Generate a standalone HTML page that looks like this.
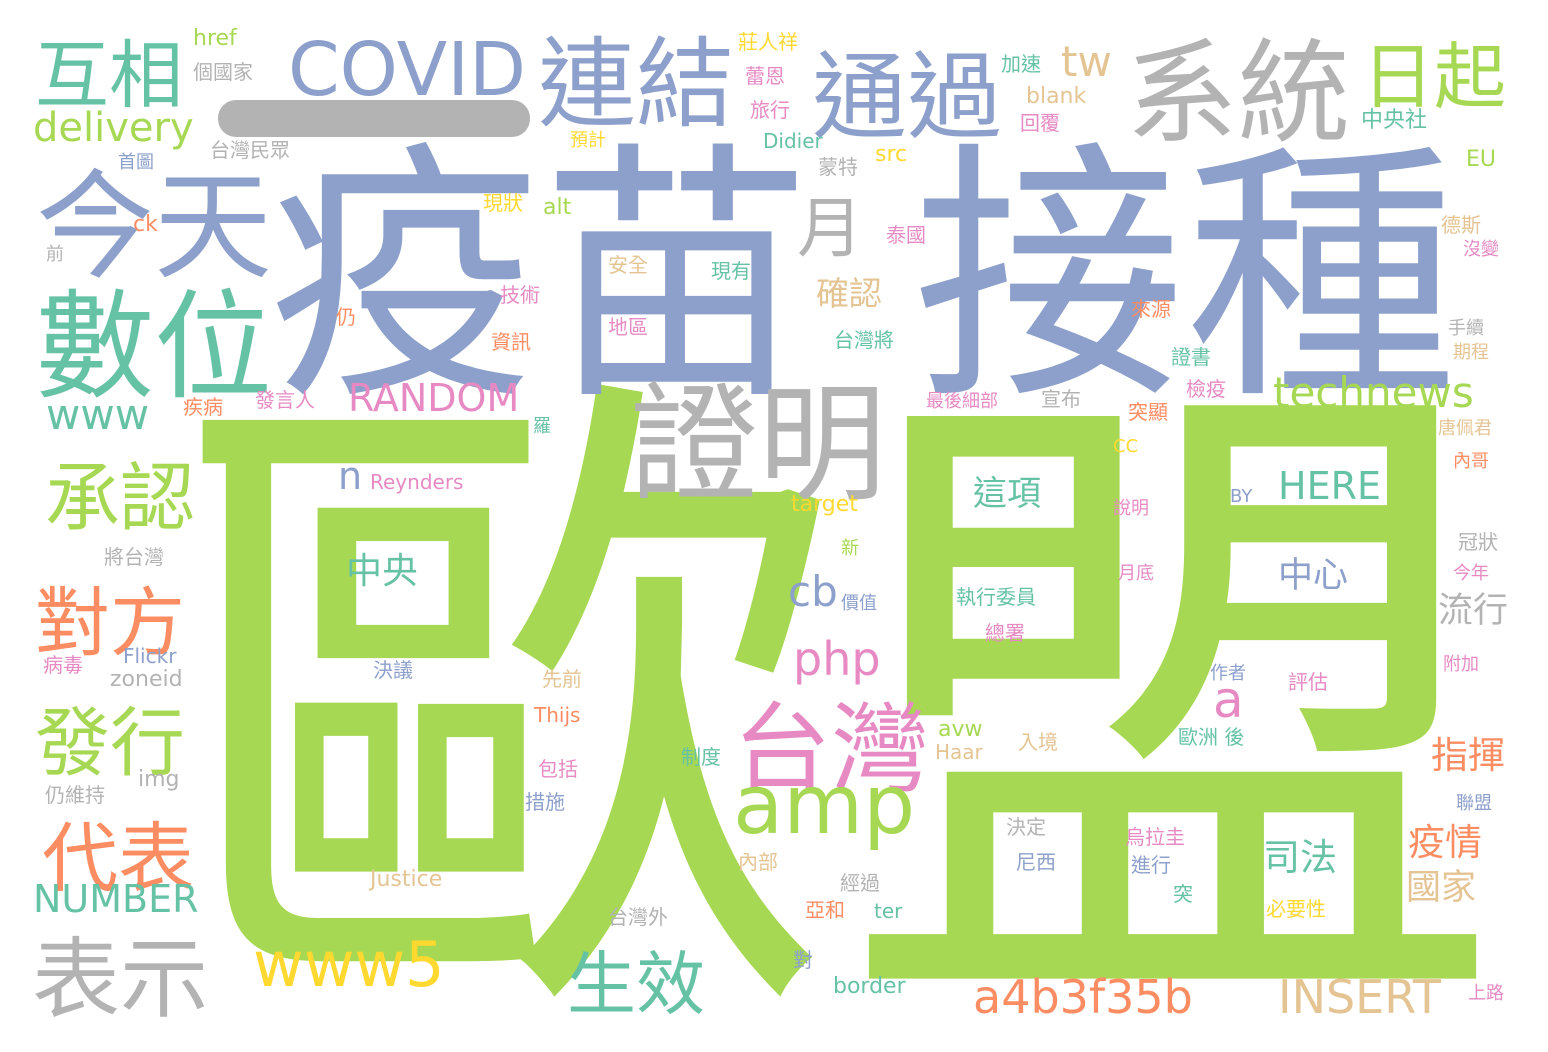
<!DOCTYPE html>
<html><head><meta charset="utf-8">
<style>
html,body{margin:0;padding:0;background:#fff;}
#cloud{position:relative;width:1548px;height:1052px;overflow:hidden;background:#fff;}
#cloud span{position:absolute;white-space:nowrap;line-height:1;font-family:"DejaVu Sans","Noto Sans CJK TC","Noto Sans CJK SC",sans-serif;}
#bar{position:absolute;left:218px;top:100px;width:312px;height:37px;border-radius:18px;background:#b3b3b3;}
</style></head>
<body>
<div id="cloud">
<div id="bar"></div>
</div>
<script>
const G='#a6d854',B='#8da0cb',Y='#b3b3b3',T='#66c2a5',O='#fc8d62',P='#e78ac3',YE='#ffd92f',N='#e5c494';
const words=[
['歐盟',176,395,665,G],
['疫苗',268,148,272,B],
['接種',913,148,272,B],
['證明',630,385,128,Y],
['數位',36,290,118,T],
['今天',36,170,118,B],
['系統',1126,40,112,Y],
['連結',538,38,98,B],
['通過',812,53,95,B],
['台灣',733,703,98,P],
['表示',32,938,88,Y],
['amp',733,772,82,G],
['COVID',288,40,74,B],
['互相',35,40,74,T],
['承認',45,463,75,G],
['對方',35,588,75,O],
['發行',35,708,75,G],
['代表',42,823,76,O],
['日起',1362,42,72,G],
['生效',567,952,69,T],
['月',797,197,66,Y],
['www5',253,940,62,YE],
['a4b3f35b',973,978,46,O],
['INSERT',1278,978,46,N],
['php',793,640,46,P],
['a',1213,680,50,P],
['technews',1273,376,42,G],
['tw',1061,45,42,N],
['www',46,398,42,T],
['cb',788,575,42,B],
['n',338,460,38,B],
['delivery',33,112,40,G],
['NUMBER',33,883,38,T],
['RANDOM',348,382,38,P],
['HERE',1278,470,38,T],
['中央',346,555,36,T],
['司法',1263,840,37,T],
['疫情',1408,825,37,O],
['指揮',1431,738,37,O],
['國家',1406,872,35,N],
['流行',1438,595,35,Y],
['中心',1278,560,35,B],
['這項',973,478,34,T],
['確認',816,278,33,N],
['href',193,30,22,G],['個國家',193,62,20,Y],['莊人祥',738,32,20,YE],['蕾恩',745,66,20,P],['旅行',750,100,20,P],
['加速',1001,54,20,T],['blank',1026,88,22,N],['回覆',1020,113,20,P],['中央社',1361,110,22,T],['Didier',763,133,20,T],
['預計',570,132,18,YE],['台灣民眾',210,140,20,Y],['首圖',118,154,18,B],['蒙特',818,157,20,Y],['src',875,146,22,YE],
['EU',1466,151,22,G],['現狀',483,193,20,YE],['alt',543,199,22,G],['ck',133,216,22,O],['泰國',886,225,20,P],
['德斯',1441,215,20,N],['沒變',1463,241,18,P],['前',46,246,18,Y],['安全',608,255,20,N],['現有',711,261,20,T],
['技術',500,285,20,P],['來源',1131,299,20,O],['仍',336,307,20,O],['地區',608,317,20,P],['台灣將',834,330,20,T],
['手續',1448,320,18,Y],['期程',1453,344,18,N],['資訊',491,332,20,O],['證書',1171,347,20,T],['檢疫',1186,379,20,P],
['最後細部',926,393,18,P],['宣布',1041,389,20,Y],['疾病',183,397,20,O],['發言人',255,390,20,P],['突顯',1128,402,20,O],
['羅',533,418,18,T],['唐佩君',1438,420,18,N],['內哥',1453,453,18,O],['CC',1113,440,18,YE],['Reynders',370,474,20,P],
['target',791,496,22,YE],['說明',1113,500,18,P],['BY',1230,490,18,B],['將台灣',104,547,20,Y],['新',841,540,18,G],
['冠狀',1458,532,20,Y],['今年',1453,565,18,P],['月底',1118,565,18,P],['執行委員',956,587,20,T],['價值',841,595,18,B],
['總署',985,623,20,P],['Flickr',123,648,20,B],['病毒',43,655,20,P],['zoneid',110,671,22,Y],['決議',373,660,20,B],
['作者',1210,665,18,B],['評估',1288,672,20,P],['附加',1443,656,18,P],['先前',542,669,20,N],['Thijs',534,707,20,O],
['avw',938,721,22,G],['Haar',935,744,20,N],['入境',1018,732,20,N],['歐洲 後',1178,727,20,T],['制度',681,747,20,T],
['包括',538,759,20,P],['img',138,771,22,Y],['仍維持',45,785,20,Y],['措施',525,792,20,B],['聯盟',1456,795,18,B],
['決定',1006,817,20,Y],['烏拉圭',1125,827,20,P],['尼西',1016,852,20,B],['進行',1131,855,20,B],['內部',738,852,20,N],
['經過',840,873,20,Y],['Justice',370,871,22,N],['突',1173,884,20,T],['亞和',805,900,20,O],['ter',874,903,20,T],
['必要性',1266,899,20,YE],['台灣外',608,907,20,Y],['對',793,950,20,B],['border',833,978,22,T],['上路',1468,985,18,P]
];
const cloud=document.getElementById('cloud');
const latin=/^[A-Za-z0-9 ]+$/;
words.forEach(function(w,i){
  const el=document.createElement('span');
  el.textContent=w[0];
  const off=latin.test(w[0])?0.09:0.02;
  el.style.left=w[1]+'px';
  el.style.top=(w[2]-Math.round(w[3]*off))+'px';
  el.style.fontSize=w[3]+'px';
  el.style.color=w[4];
  
  
  cloud.appendChild(el);
});
</script>
</body></html>
